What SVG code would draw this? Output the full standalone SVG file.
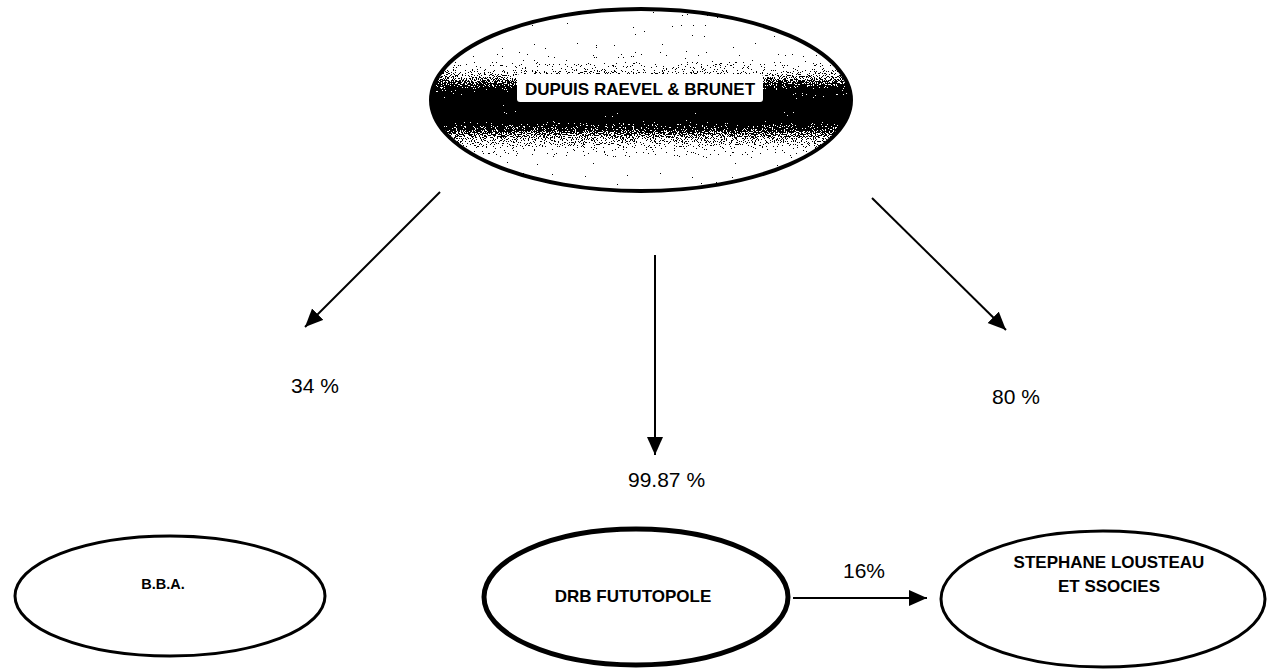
<svg xmlns="http://www.w3.org/2000/svg" width="1269" height="669" viewBox="0 0 1269 669">
<style>
.node{fill:#fff;stroke:#000}
.lbl{font-family:"Liberation Sans",Arial,sans-serif;font-weight:bold;font-size:17px;fill:#000;text-anchor:middle}
.pct{font-family:"Liberation Sans",Arial,sans-serif;font-size:21px;fill:#000}
.conn{stroke:#000;stroke-width:2;fill:none;marker-end:url(#ah)}
</style>
<defs>
<marker id="ah" markerUnits="userSpaceOnUse" markerWidth="20" markerHeight="18" refX="18" refY="8" orient="auto">
<path d="M0,0 L18,8 L0,16 Z" fill="#000"/>
</marker>
<linearGradient id="dark" x1="0" y1="0" x2="0" y2="1">
<stop offset="0" stop-color="#fff"/>
<stop offset="0.2" stop-color="#fff"/>
<stop offset="0.28" stop-color="#e4e4e4"/>
<stop offset="0.36" stop-color="#a8a8a8"/>
<stop offset="0.44" stop-color="#333"/>
<stop offset="0.5" stop-color="#000"/>
<stop offset="0.6" stop-color="#000"/>
<stop offset="0.66" stop-color="#555"/>
<stop offset="0.74" stop-color="#b4b4b4"/>
<stop offset="0.82" stop-color="#eee"/>
<stop offset="0.88" stop-color="#fff"/>
<stop offset="1" stop-color="#fff"/>
</linearGradient>
<filter id="dither" x="0" y="0" width="100%" height="100%" color-interpolation-filters="sRGB">
<feTurbulence type="fractalNoise" baseFrequency="0.9" numOctaves="2" seed="7" result="n"/>
<feColorMatrix in="n" type="matrix" values="1 0 0 0 0 1 0 0 0 0 1 0 0 0 0 0 0 0 0 1" result="g"/>
<feComposite in="SourceGraphic" in2="g" operator="arithmetic" k1="0" k2="1" k3="1.6" k4="-0.8" result="s"/>
<feComponentTransfer in="s" result="t">
<feFuncR type="discrete" tableValues="0 1"/>
<feFuncG type="discrete" tableValues="0 1"/>
<feFuncB type="discrete" tableValues="0 1"/>
</feComponentTransfer>
<feComposite in="t" in2="SourceGraphic" operator="in"/>
</filter>
</defs>
<rect width="1269" height="669" fill="#fff"/>
<g id="connectors">
<line class="conn" x1="440" y1="192" x2="305" y2="327"/>
<line class="conn" x1="655" y1="255" x2="655" y2="455"/>
<line class="conn" x1="872" y1="198" x2="1006" y2="330"/>
<line class="conn" x1="793" y1="598" x2="927" y2="598"/>
<text class="pct" x="315" y="393" text-anchor="middle">34 %</text>
<text class="pct" x="1016" y="404" text-anchor="middle">80 %</text>
<text class="pct" x="628" y="487">99.87 %</text>
<text class="pct" x="843" y="578">16%</text>
</g>
<g id="node-drb-top">
<ellipse cx="641" cy="100" rx="210" ry="91" fill="url(#dark)" filter="url(#dither)"/>
<ellipse cx="641" cy="100" rx="210" ry="91" fill="none" stroke="#000" stroke-width="4"/>
<rect x="517" y="74" width="246" height="28" rx="3" fill="#fff"/>
<text class="lbl" x="640" y="95">DUPUIS RAEVEL &amp; BRUNET</text>
</g>
<g id="node-bba">
<ellipse class="node" cx="170" cy="596" rx="155" ry="60" stroke-width="3"/>
<text class="lbl" x="163" y="589" style="font-size:14.5px">B.B.A.</text>
</g>
<g id="node-drb-fututopole">
<ellipse class="node" cx="636" cy="597" rx="152" ry="68" stroke-width="5"/>
<text class="lbl" x="633" y="602">DRB FUTUTOPOLE</text>
</g>
<g id="node-stephane">
<ellipse class="node" cx="1103" cy="599" rx="162" ry="68" stroke-width="3"/>
<text class="lbl" x="1109" y="568">STEPHANE LOUSTEAU</text>
<text class="lbl" x="1109" y="592">ET SSOCIES</text>
</g>
</svg>
